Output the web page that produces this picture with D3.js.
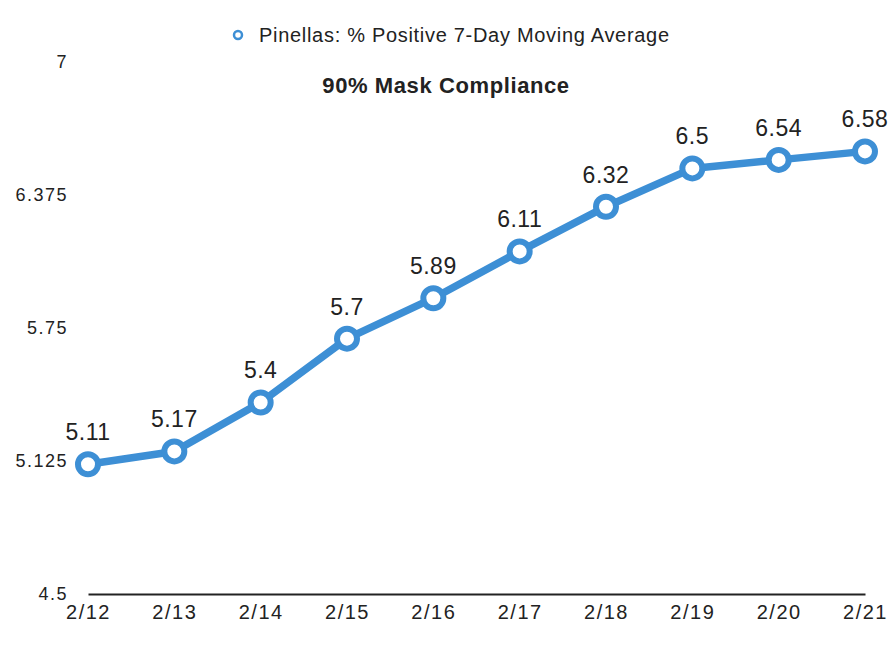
<!DOCTYPE html>
<html>
<head>
<meta charset="utf-8">
<script src="https://cdn.jsdelivr.net/npm/d3@7"></script>
<style>
  body { margin: 0; background: #fff; }
  text { font-family: "Liberation Sans", Arial, sans-serif; fill: #222; }
</style>
</head>
<body>
<script>
// data
var dates = ["2/12", "2/13", "2/14", "2/15", "2/16", "2/17", "2/18", "2/19", "2/20", "2/21"];
var values = [5.11, 5.17, 5.4, 5.7, 5.89, 6.11, 6.32, 6.5, 6.54, 6.58];
var yTicks = [4.5, 5.125, 5.75, 6.375, 7];
var seriesName = "Pinellas: % Positive 7-Day Moving Average";
var title = "90% Mask Compliance";

var width = 890;
var height = 656;
var blue = "#3d8fd5";

var svg = d3.select("body")
  .append("svg")
  .attr("width", width)
  .attr("height", height);

var x = d3.scalePoint()
  .domain(dates)
  .range([88, 865]);

var y = d3.scaleLinear()
  .domain([4.5, 7])
  .range([594, 62]);

// y axis labels only, no line
var yAxis = svg.append("g")
  .attr("transform", "translate(68,0)")
  .call(d3.axisLeft(y).tickValues(yTicks).tickSize(0).tickPadding(0)
    .tickFormat(function (d) { return d; }));
yAxis.select(".domain").remove();
yAxis.selectAll("text")
  .attr("font-size", "18px")
  .attr("letter-spacing", "1.5px")
  .attr("font-family", "Liberation Sans, Arial, sans-serif")
  .attr("fill", "#222");

// x axis
var xAxis = svg.append("g")
  .attr("transform", "translate(0,594)")
  .call(d3.axisBottom(x).tickSize(0).tickPadding(11));
xAxis.select(".domain")
  .attr("stroke", "#222")
  .attr("stroke-width", 2);
xAxis.selectAll("text")
  .attr("font-size", "20px")
  .attr("letter-spacing", "1.5px")
  .attr("font-family", "Liberation Sans, Arial, sans-serif")
  .attr("fill", "#222");

// line
var line = d3.line()
  .x(function (d, i) { return x(dates[i]); })
  .y(function (d) { return y(d); });

svg.append("path")
  .datum(values)
  .attr("fill", "none")
  .attr("stroke", blue)
  .attr("stroke-width", 7.5)
  .attr("stroke-linejoin", "round")
  .attr("d", line);

svg.selectAll("circle.pt")
  .data(values)
  .enter()
  .append("circle")
  .attr("class", "pt")
  .attr("cx", function (d, i) { return x(dates[i]); })
  .attr("cy", function (d) { return y(d); })
  .attr("r", 10)
  .attr("fill", "#fff")
  .attr("stroke", blue)
  .attr("stroke-width", 6);

// value labels
svg.selectAll("text.val")
  .data(values)
  .enter()
  .append("text")
  .attr("class", "val")
  .attr("x", function (d, i) { return x(dates[i]); })
  .attr("y", function (d) { return y(d) - 24; })
  .attr("text-anchor", "middle")
  .attr("font-size", "23px")
  .attr("letter-spacing", "0.5px")
  .text(function (d) { return d; });

// title
svg.append("text")
  .attr("x", 446)
  .attr("y", 93)
  .attr("text-anchor", "middle")
  .attr("font-size", "22px")
  .attr("font-weight", "bold")
  .attr("letter-spacing", "0.6px")
  .text(title);

// legend
svg.append("circle")
  .attr("cx", 238)
  .attr("cy", 35)
  .attr("r", 4)
  .attr("fill", "#fff")
  .attr("stroke", blue)
  .attr("stroke-width", 2.5);
svg.append("text")
  .attr("x", 259)
  .attr("y", 42)
  .attr("font-size", "20px")
  .attr("letter-spacing", "0.7px")
  .text(seriesName);
</script>
</body>
</html>
